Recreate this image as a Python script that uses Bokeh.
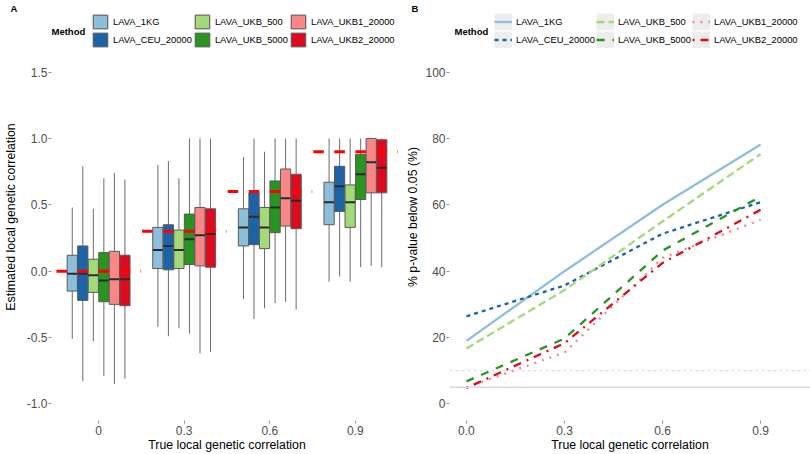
from bokeh.plotting import figure
from bokeh.models import (ColumnDataSource, Legend, LegendItem, Label, Span,
                          FactorRange, Range1d, FixedTicker, NumeralTickFormatter)
from bokeh.transform import dodge
from bokeh.layouts import row
from bokeh.embed import file_html
from bokeh.resources import INLINE

# ---------------- data ----------------
methods = ["LAVA_1KG", "LAVA_CEU_20000", "LAVA_UKB_500",
           "LAVA_UKB_5000", "LAVA_UKB1_20000", "LAVA_UKB2_20000"]
categories = ["0", "0.3", "0.6", "0.9"]
true_rho = [0.0, 0.3, 0.6, 0.9]

# boxplot statistics, one row per method, one column per true correlation
whisker_low = [[-0.51, -0.42, -0.21, -0.08],
               [-0.83, -0.49, -0.36, -0.04],
               [-0.53, -0.43, -0.28, -0.08],
               [-0.79, -0.47, -0.24, 0.03],
               [-0.85, -0.62, -0.23, 0.04],
               [-0.81, -0.61, -0.29, 0.03]]
quartile_1 = [[-0.15, 0.02, 0.19, 0.35],
              [-0.22, 0.01, 0.20, 0.45],
              [-0.16, 0.02, 0.17, 0.33],
              [-0.23, 0.05, 0.29, 0.54],
              [-0.25, 0.04, 0.34, 0.59],
              [-0.26, 0.03, 0.32, 0.59]]
medians = [[-0.02, 0.16, 0.33, 0.52],
           [-0.02, 0.19, 0.41, 0.64],
           [-0.03, 0.16, 0.33, 0.52],
           [-0.07, 0.24, 0.48, 0.73],
           [-0.06, 0.27, 0.55, 0.82],
           [-0.06, 0.28, 0.53, 0.78]]
quartile_3 = [[0.12, 0.33, 0.47, 0.67],
              [0.19, 0.35, 0.59, 0.79],
              [0.09, 0.31, 0.48, 0.65],
              [0.14, 0.43, 0.68, 0.88],
              [0.15, 0.48, 0.77, 1.00],
              [0.12, 0.47, 0.73, 0.99]]
whisker_high = [[0.48, 0.80, 0.86, 1.00],
                [0.79, 0.83, 1.00, 1.00],
                [0.47, 0.70, 0.90, 1.00],
                [0.70, 1.00, 1.00, 1.00],
                [0.74, 1.00, 1.00, 1.00],
                [0.69, 1.00, 1.00, 1.00]]

# power (% p-value below 0.05)
power_x = [0.0, 0.3, 0.6, 0.9]
power_1kg = [19.0, 40.0, 60.0, 78.2]
power_ceu_20000 = [26.4, 35.7, 51.3, 60.8]
power_ukb_500 = [16.7, 34.3, 55.0, 75.3]
power_ukb_5000 = [6.8, 19.7, 46.2, 62.5]
power_ukb1_20000 = [5.0, 15.5, 44.0, 55.5]
power_ukb2_20000 = [4.8, 18.3, 42.5, 58.5]
power_series = [power_1kg, power_ceu_20000, power_ukb_500,
                power_ukb_5000, power_ukb1_20000, power_ukb2_20000]
reference_levels = [5, 10]

# ---------------- style ----------------
FONT = "Liberation Sans"
colors = ["#8EBFDA", "#1D63A7", "#A3D978", "#2A9421", "#F78887", "#DC0B1F"]
dashes = ["solid", "4 4", "8 4", "8 8", "2 6", "2 6 8 6"]
KEY_BG = "#EDEDED"
H = 454
BOTTOM = 32
FRAME_TOP = 15          # approx. height of the tag title panel
DATA_TOP = 57           # pixel row where the data area starts
FRAME_BOTTOM = H - BOTTOM
LEGEND_BOTTOM = 50      # pixel row of the legend's lower edge
WA, WB = 403, 407
NAN = float("nan")


def extend_top(lo, hi):
    # data area spans rows DATA_TOP..FRAME_BOTTOM; frame reaches up to FRAME_TOP
    per_px = (hi - lo) / (FRAME_BOTTOM - DATA_TOP)
    return Range1d(lo, hi + per_px * (DATA_TOP - FRAME_TOP))


def style(p, tag, tag_offset, ytitle_standoff):
    p.outline_line_color = None
    p.xgrid.visible = False
    p.ygrid.visible = False
    p.background_fill_color = "white"
    p.border_fill_color = "white"
    p.title.text = tag
    p.title.align = "left"
    p.title.offset = tag_offset
    p.title.standoff = 0
    p.title.text_font = FONT
    p.title.text_font_size = "9.5px"
    p.title.text_font_style = "bold"
    p.title.text_color = "black"
    for ax in (p.xaxis[0], p.yaxis[0]):
        ax.axis_line_color = None
        ax.major_tick_in = 0
        ax.major_tick_out = 3
        ax.major_tick_line_color = "#4D4D4D"
        ax.major_tick_line_width = 0.6
        ax.minor_tick_line_color = None
        ax.major_label_text_font = FONT
        ax.major_label_text_font_size = "12px"
        ax.major_label_text_color = "#4D4D4D"
        ax.major_label_standoff = 1
        ax.axis_label_text_font = FONT
        ax.axis_label_text_font_size = "12.3px"
        ax.axis_label_text_font_style = "normal"
        ax.axis_label_text_color = "black"
    p.xaxis[0].major_label_standoff = 2
    p.xaxis[0].axis_label_standoff = 0
    p.yaxis[0].axis_label_standoff = ytitle_standoff


def add_legend(p, renderers, method_x, legend_x):
    p.add_layout(Label(x=method_x, y=FRAME_BOTTOM - (LEGEND_BOTTOM - 17.5),
                       x_units="screen", y_units="screen", text="Method",
                       text_font=FONT, text_font_size="9.5px",
                       text_font_style="bold", text_baseline="middle",
                       text_color="black"))
    items = []
    for m, r in zip(methods, renderers):
        bg = p.line(x=[NAN], y=[NAN], line_color=KEY_BG, line_width=17)
        items.append(LegendItem(label=m, renderers=[bg, r]))
    lg = Legend(items=items, location=(legend_x, FRAME_BOTTOM - LEGEND_BOTTOM),
                orientation="vertical", ncols=3, glyph_width=18,
                glyph_height=17, label_height=17, label_standoff=4,
                spacing=1, padding=0, margin=0, border_line_color=None,
                background_fill_alpha=0, label_text_font=FONT,
                label_text_font_size="9.4px", label_text_color="black")
    p.add_layout(lg, "center")


# ---------------- panel A ----------------
pA = figure(width=WA, height=H,
            x_range=FactorRange(*categories, range_padding=0.05,
                                range_padding_units="absolute"),
            y_range=extend_top(-1.125, 1.625), output_backend="svg",
            toolbar_location=None, min_border_left=48, min_border_right=1,
            min_border_top=0, min_border_bottom=BOTTOM)
style(pA, "A", -41, 6)
pA.xaxis.axis_label = "True local genetic correlation"
pA.yaxis.axis_label = "Estimated local genetic correlation"
pA.yaxis.ticker = FixedTicker(ticks=[-1.0, -0.5, 0.0, 0.5, 1.0, 1.5])
pA.yaxis.formatter = NumeralTickFormatter(format="0.0")

slot = 0.123
box_renderers = []
for i, m in enumerate(methods):
    off = (i - 2.5) * slot
    src = ColumnDataSource(dict(cat=categories, lo=whisker_low[i], q1=quartile_1[i],
                                med=medians[i], q3=quartile_3[i], hi=whisker_high[i]))
    xc = dodge("cat", off, range=pA.x_range)
    pA.segment(x0=xc, y0="lo", x1=xc, y1="hi", source=src,
               line_color="#6B6B6B", line_width=1)
    rb = pA.vbar(x=xc, width=slot * 0.97, bottom="q1", top="q3", source=src,
                 fill_color=colors[i], line_color="#5A5A5A", line_width=1)
    pA.segment(x0=dodge("cat", off - slot * 0.48, range=pA.x_range), y0="med",
               x1=dodge("cat", off + slot * 0.48, range=pA.x_range), y1="med",
               source=src, line_color="#2B2B2B", line_width=2)
    box_renderers.append(rb)

truth = ColumnDataSource(dict(cat=categories, rho=true_rho))
for k in (-3.5, -1.5, 0.5, 2.5):
    pA.segment(x0=dodge("cat", k * slot - slot / 2, range=pA.x_range), y0="rho",
               x1=dodge("cat", k * slot + slot / 2, range=pA.x_range), y1="rho",
               source=truth, line_color="#FF0000", line_width=3)
pA.segment(x0=dodge("cat", 4.0 * slot - 0.006, range=pA.x_range), y0="rho",
           x1=dodge("cat", 4.0 * slot + 0.006, range=pA.x_range), y1="rho",
           source=truth, line_color="#FF0000", line_width=3, line_alpha=0.45)

add_legend(pA, box_renderers, 0, 40)

# ---------------- panel B ----------------
pB = figure(width=WB, height=H, x_range=Range1d(-0.0519, 1.0525),
            y_range=extend_top(-5, 105), output_backend="svg",
            toolbar_location=None, min_border_left=45, min_border_right=0,
            min_border_top=0, min_border_bottom=BOTTOM)
style(pB, "B", -38, 2)
pB.xaxis.axis_label = "True local genetic correlation"
pB.yaxis.axis_label = "% p-value below 0.05 (%)"
pB.xaxis.ticker = FixedTicker(ticks=power_x)
pB.xaxis.formatter = NumeralTickFormatter(format="0.0")
pB.yaxis.ticker = FixedTicker(ticks=[0, 20, 40, 60, 80, 100])

pB.add_layout(Span(location=reference_levels[0], dimension="width",
                   line_color="#D9D9D9", line_width=1.6))
pB.add_layout(Span(location=reference_levels[1], dimension="width",
                   line_color="#C4C4C4", line_width=0.7, line_dash="3 3"))

line_renderers = []
for i, m in enumerate(methods):
    src = ColumnDataSource(dict(x=power_x, y=power_series[i]))
    rl = pB.line(x="x", y="y", source=src, line_color=colors[i], line_width=2.3,
                 line_dash=dashes[i])
    line_renderers.append(rl)

add_legend(pB, line_renderers, 5, 45)

layout = row(pA, pB)
open("out.html", "w").write(file_html(layout, INLINE))
